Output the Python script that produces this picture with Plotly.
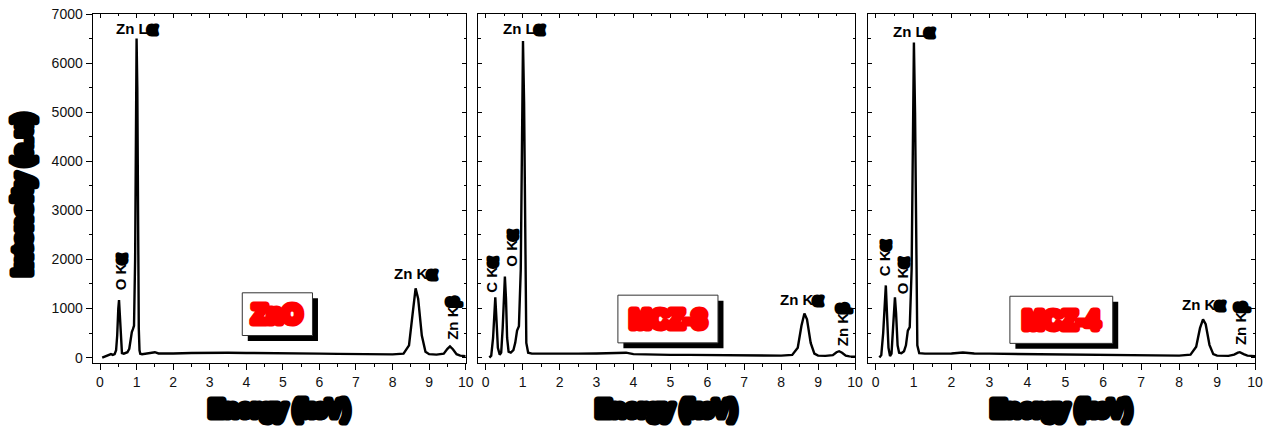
import plotly.graph_objects as go

# ---- EDS spectra (energy in keV, counts) ----
zno_e = [0.06, 0.1, 0.15, 0.2, 0.25, 0.3, 0.35, 0.4, 0.44, 0.47, 0.5, 0.52, 0.54, 0.57, 0.6, 0.65,
         0.7, 0.75, 0.8, 0.84, 0.87, 0.9, 0.93, 0.96, 0.98, 1.0, 1.02, 1.04, 1.06, 1.08, 1.1, 1.15,
         1.2, 1.3, 1.4, 1.5, 1.6, 1.8, 2.0, 2.5, 3.0, 3.5, 4.0, 4.5, 5.0, 5.5, 6.0, 6.5, 7.0, 7.5,
         8.0, 8.3, 8.45, 8.55, 8.63, 8.7, 8.8, 8.9, 9.0, 9.2, 9.4, 9.5, 9.57, 9.65, 9.75, 9.85, 10.0]
zno_i = [0, 10, 30, 50, 60, 70, 55, 70, 150, 450, 1000, 1170, 900, 300, 90, 80,
         90, 110, 180, 400, 520, 580, 650, 2000, 4500, 6500, 5500, 2500, 600, 150, 80, 70,
         75, 80, 85, 110, 85, 80, 85, 95, 100, 100, 95, 95, 90, 85, 80, 75, 70, 65,
         65, 80, 250, 900, 1410, 1200, 450, 120, 70, 60, 80, 180, 230, 170, 70, 40, 30]

mcz3_e = [0.1, 0.15, 0.2, 0.23, 0.26, 0.29, 0.33, 0.38, 0.42, 0.46, 0.5, 0.52, 0.55, 0.58, 0.62,
          0.68, 0.75, 0.8, 0.85, 0.9, 0.95, 0.98, 1.01, 1.04, 1.07, 1.1, 1.15, 1.25, 1.5, 2.0,
          2.5, 3.0, 3.5, 3.8, 4.0, 4.5, 5.0, 5.5, 6.0, 6.5, 7.0, 7.5, 8.0, 8.3, 8.45, 8.55,
          8.63, 8.7, 8.8, 8.9, 9.0, 9.2, 9.4, 9.5, 9.57, 9.65, 9.75, 9.85, 10.0]
mcz3_i = [0, 40, 400, 1000, 1230, 800, 200, 60, 100, 600, 1400, 1650, 1200, 400, 120,
          100, 150, 300, 550, 640, 1800, 4500, 6450, 5200, 1800, 300, 100, 80, 80, 75,
          80, 85, 95, 100, 70, 60, 55, 55, 50, 45, 45, 40, 40, 55, 200, 650,
          900, 780, 300, 80, 40, 35, 50, 110, 130, 100, 40, 25, 20]

mcz4_e = [0.1, 0.15, 0.2, 0.24, 0.27, 0.3, 0.34, 0.38, 0.42, 0.46, 0.49, 0.51, 0.54, 0.58, 0.62,
          0.68, 0.75, 0.8, 0.85, 0.9, 0.95, 0.98, 1.01, 1.04, 1.07, 1.1, 1.15, 1.3, 1.6, 2.0,
          2.3, 2.6, 3.0, 3.5, 4.0, 4.5, 5.0, 5.5, 6.0, 6.5, 7.0, 7.5, 8.0, 8.3, 8.45, 8.55,
          8.63, 8.7, 8.8, 8.9, 9.0, 9.3, 9.45, 9.55, 9.6, 9.7, 9.8, 10.0]
mcz4_i = [0, 50, 500, 1200, 1470, 900, 200, 30, 80, 600, 1100, 1230, 900, 250, 100,
          90, 130, 250, 550, 620, 1800, 4500, 6420, 5000, 1500, 250, 90, 80, 80, 85,
          105, 85, 80, 75, 70, 65, 60, 55, 55, 50, 45, 40, 40, 60, 220, 600,
          780, 680, 260, 70, 40, 35, 60, 100, 110, 70, 40, 30]

sample_names = ["ZnO", "MCZ-3", "MCZ-4"]
spectra = [(zno_e, zno_i), (mcz3_e, mcz3_i), (mcz4_e, mcz4_i)]

# peak labels: (text, line, x, y, rotated)
peak_labels = [
    [("Zn L", "α", 1.0, 6700, False), ("O K", "α", 0.55, 1740, True),
     ("Zn K", "α", 8.63, 1720, False), ("Zn K", "β", 9.64, 780, True)],
    [("Zn L", "α", 1.04, 6700, False), ("C K", "α", 0.16, 1680, True), ("O K", "α", 0.70, 2230, True),
     ("Zn K", "α", 8.54, 1190, False), ("Zn K", "β", 9.65, 660, True)],
    [("Zn L", "α", 1.0, 6650, False), ("C K", "α", 0.24, 2020, True), ("O K", "α", 0.70, 1660, True),
     ("Zn K", "α", 8.63, 1090, False), ("Zn K", "β", 9.6, 680, True)],
]

# sample tag boxes (x0, x1, y0, y1) in data units
tag_boxes = [(3.89, 5.81, 450, 1320), (3.58, 6.29, 300, 1272), (3.54, 6.25, 290, 1250)]

W, H = 1278, 432
x_px = [(92.7, 465.7), (478.3, 855), (868, 1255)]
y_top, y_bot = 14, 363
x_range = [-0.2, 10]
y_range = [-110, 7000]

FONT = "Liberation Sans, Arial, sans-serif"
BLOB = "stroke:{c};stroke-width:{w}px;stroke-linejoin:round"

fig = go.Figure()
layout = dict(
    width=W, height=H, margin=dict(l=0, r=0, t=0, b=0, autoexpand=False),
    paper_bgcolor="white", plot_bgcolor="white", showlegend=False,
    font=dict(family=FONT, size=13, color="#222"),
)
annotations = []
shapes = []
ydom = [1 - y_bot / H, 1 - y_top / H]

for i, ((e, inten), name) in enumerate(zip(spectra, sample_names)):
    n = i + 1
    xd = [x_px[i][0] / W, x_px[i][1] / W]
    xa, ya = f"x{n}", f"y{n}"
    xt, yr = f"x{n + 3}", f"y{n + 3}"
    fig.add_trace(go.Scatter(x=e, y=inten, mode="lines", xaxis=xa, yaxis=ya,
                             line=dict(color="black", width=2.4)))
    # empty trace so the mirrored (top/right) axes get drawn
    fig.add_trace(go.Scatter(x=[], y=[], xaxis=xt, yaxis=yr, hoverinfo="skip"))

    common = dict(showgrid=False, zeroline=False, automargin=False,
                  showline=True, linecolor="black", linewidth=1.3)
    layout[f"xaxis{n}"] = dict(
        domain=xd, range=x_range, anchor=ya, **common,
        ticks="outside", ticklen=6, tickwidth=1.2, tickcolor="black", dtick=1, tick0=0,
        minor=dict(ticks="outside", ticklen=3, dtick=0.5, tickcolor="black", tickwidth=1),
        tickfont=dict(size=14, color="#111", family=FONT),
    )
    layout[f"yaxis{n}"] = dict(
        domain=ydom, range=y_range, anchor=xa, **common,
        ticks="outside" if i == 0 else "inside", ticklen=6 if i == 0 else 4,
        tickwidth=1.2, tickcolor="black", dtick=1000, tick0=0,
        showticklabels=(i == 0),
        minor=dict(ticks="outside" if i == 0 else "inside", ticklen=3, dtick=500,
                   tickcolor="black", tickwidth=1),
        tickfont=dict(size=14, color="#111", family=FONT),
    )
    layout[f"xaxis{n + 3}"] = dict(
        overlaying=xa, side="top", range=x_range, anchor=ya, **common,
        showticklabels=False,
        ticks="inside", ticklen=4, tickcolor="black", dtick=1, tick0=0,
        minor=dict(ticks="inside", ticklen=2, dtick=0.5, tickcolor="black"),
    )
    layout[f"yaxis{n + 3}"] = dict(
        overlaying=ya, side="right", range=y_range, anchor=xa, **common,
        showticklabels=False,
        ticks="inside", ticklen=4, tickcolor="black", dtick=1000, tick0=0,
        minor=dict(ticks="inside", ticklen=2, dtick=500, tickcolor="black"),
    )

    # peak labels
    for txt, greek, px, py, rot in peak_labels[i]:
        label = f"{txt}<span style='{BLOB.format(c='#000', w=5)}'>{greek}</span>"
        annotations.append(dict(
            x=px, y=py, xref=xa, yref=ya, text=label, showarrow=False,
            xanchor="center", yanchor="middle",
            textangle=-90 if rot else 0,
            font=dict(family=FONT, size=15, color="black", weight="bold"),
        ))

    # sample tag with drop shadow
    bx0, bx1, by0, by1 = tag_boxes[i]
    sx = 5.5 / ((x_px[i][1] - x_px[i][0]) / (x_range[1] - x_range[0]))
    sy = 5.5 / ((y_bot - y_top) / (y_range[1] - y_range[0]))
    shapes.append(dict(type="rect", xref=xa, yref=ya, x0=bx0 + sx, x1=bx1 + sx,
                       y0=by0 - sy, y1=by1 - sy, fillcolor="black", line=dict(width=0),
                       layer="above"))
    shapes.append(dict(type="rect", xref=xa, yref=ya, x0=bx0, x1=bx1, y0=by0, y1=by1,
                       fillcolor="white", line=dict(color="#333", width=1), layer="above"))
    annotations.append(dict(
        x=(bx0 + bx1) / 2, y=(by0 + by1) / 2, xref=xa, yref=ya, showarrow=False,
        xanchor="center", yanchor="middle",
        text=f"<span style='{BLOB.format(c='#ff0000', w=7)}'>{name}</span>",
        font=dict(family=FONT, size=25, color="#ff0000", weight="bold"),
    ))

    # x-axis title
    annotations.append(dict(
        x=(x_px[i][0] + x_px[i][1]) / 2 / W, y=1 - 409 / H,
        xref="paper", yref="paper", showarrow=False, xanchor="center", yanchor="middle",
        text=f"<span style='{BLOB.format(c='#000', w=7)}'>Energy (keV)</span>",
        font=dict(family=FONT, size=23, color="black", weight="bold"),
    ))

# y-axis title
annotations.append(dict(
    x=22 / W, y=1 - 195 / H, xref="paper", yref="paper", showarrow=False, textangle=-90,
    xanchor="center", yanchor="middle",
    text=f"<span style='{BLOB.format(c='#000', w=7)}'>Intensity (a.u)</span>",
    font=dict(family=FONT, size=25, color="black", weight="bold"),
))

layout["annotations"] = annotations
layout["shapes"] = shapes
fig.update_layout(**layout)
fig.write_html("out.html")
